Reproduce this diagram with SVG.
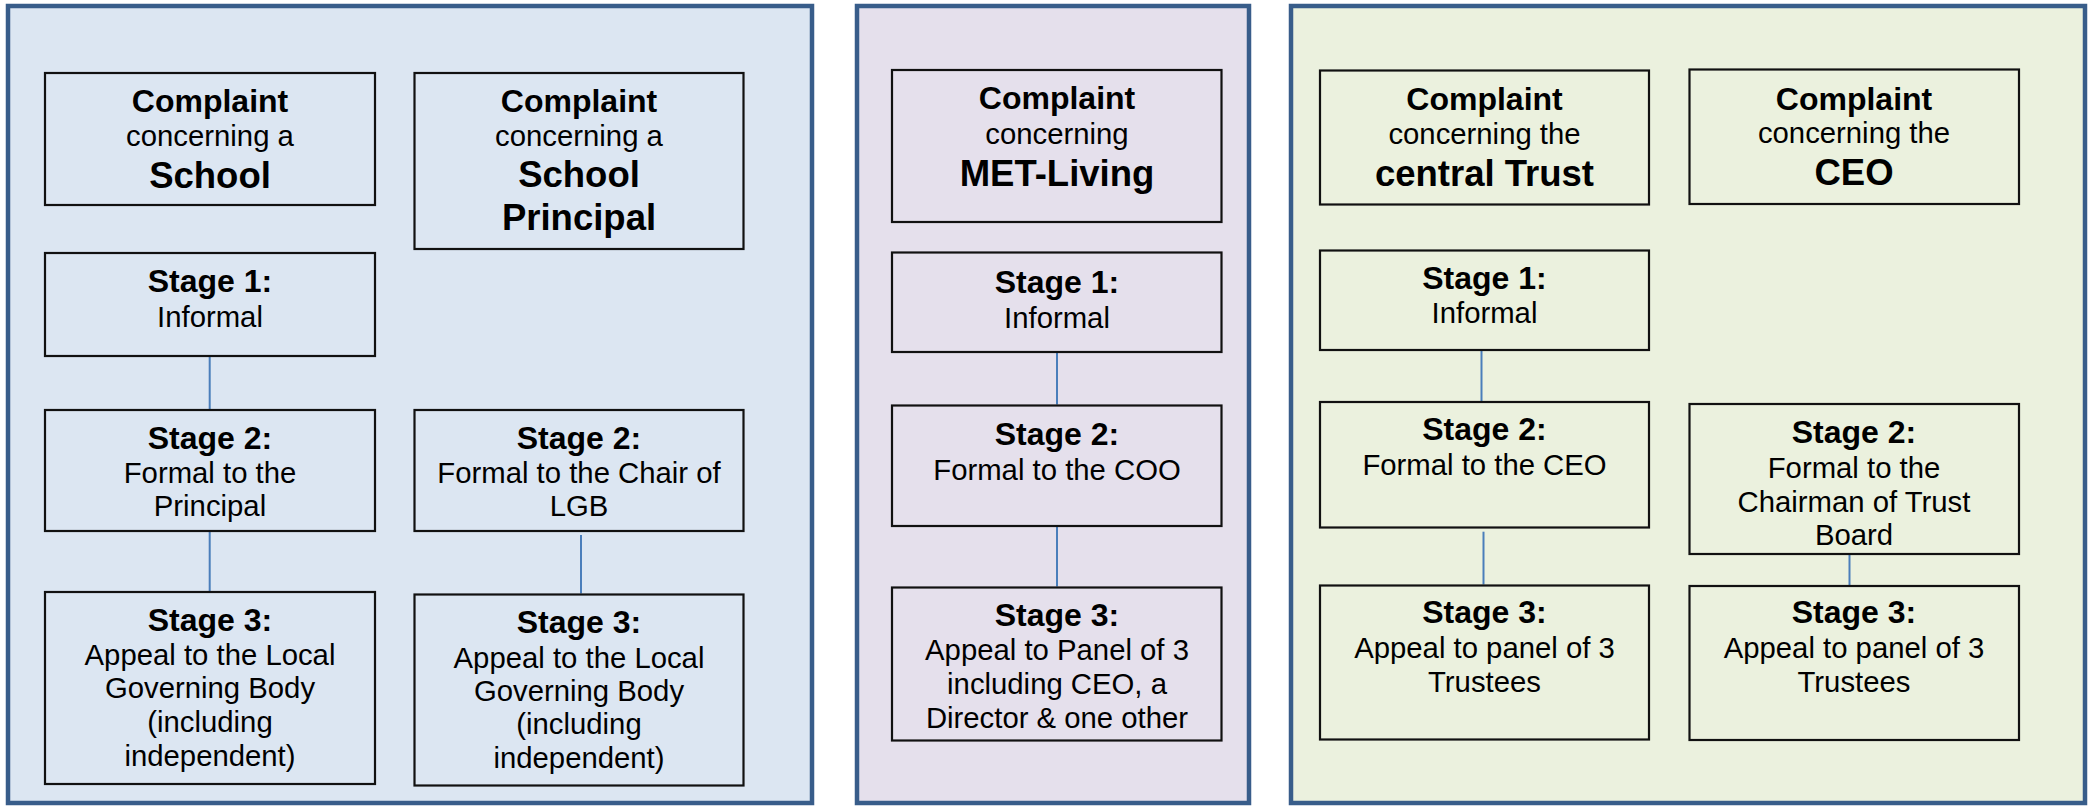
<svg xmlns="http://www.w3.org/2000/svg" width="2088" height="806" viewBox="0 0 2088 806">
<style>
.panel{stroke:#385d8a;stroke-width:4.5}
.p1{fill:#dce6f2}.p2{fill:#e5e0ec}.p3{fill:#ebf1de}
.box{fill:none;stroke:#111;stroke-width:2.2}
.conn{stroke:#4a7ebb;stroke-width:2;fill:none}
text{font-family:"Liberation Sans",Arial,sans-serif;text-anchor:middle;fill:#000}
.b{font-size:32px;font-weight:bold}
.r{font-size:29.3px}
.big{font-size:36.5px;font-weight:bold}
</style>
<g id="panel-school">
<rect class="panel p1" x="8" y="6" width="804" height="797"/>
</g>
<g id="panel-metliving">
<rect class="panel p2" x="857" y="6" width="392" height="797"/>
</g>
<g id="panel-trust">
<rect class="panel p3" x="1291" y="6" width="794" height="797"/>
</g>
<g id="connectors">
<line class="conn" x1="209.7" y1="357" x2="209.7" y2="409"/>
<line class="conn" x1="209.7" y1="532" x2="209.7" y2="591"/>
<line class="conn" x1="581" y1="535" x2="581" y2="593.5"/>
<line class="conn" x1="1057" y1="353" x2="1057" y2="404.5"/>
<line class="conn" x1="1057" y1="527" x2="1057" y2="586.5"/>
<line class="conn" x1="1481.5" y1="351" x2="1481.5" y2="401"/>
<line class="conn" x1="1483.5" y1="531.7" x2="1483.5" y2="584.5"/>
<line class="conn" x1="1849.5" y1="555" x2="1849.5" y2="585"/>
</g>
<g id="complaint-school">
<rect class="box" x="45" y="73" width="330" height="132"/>
<text x="210" y="111.7" class="b">Complaint</text>
<text x="210" y="145.5" class="r">concerning a</text>
<text x="210" y="187.5" class="big">School</text>
</g>
<g id="complaint-principal">
<rect class="box" x="414.5" y="73" width="329" height="176"/>
<text x="579" y="111.7" class="b">Complaint</text>
<text x="579" y="145.7" class="r">concerning a</text>
<text x="579" y="186.7" class="big">School</text>
<text x="579" y="230" class="big">Principal</text>
</g>
<g id="school-stage1">
<rect class="box" x="45" y="253" width="330" height="103"/>
<text x="210" y="291.7" class="b">Stage 1:</text>
<text x="210" y="327.3" class="r">Informal</text>
</g>
<g id="school-stage2">
<rect class="box" x="45" y="410" width="330" height="121"/>
<text x="210" y="449.3" class="b">Stage 2:</text>
<text x="210" y="483.3" class="r">Formal to the</text>
<text x="210" y="516" class="r">Principal</text>
</g>
<g id="principal-stage2">
<rect class="box" x="414.5" y="410" width="329" height="121"/>
<text x="579" y="449.3" class="b">Stage 2:</text>
<text x="579" y="483.3" class="r">Formal to the Chair of</text>
<text x="579" y="516" class="r">LGB</text>
</g>
<g id="school-stage3">
<rect class="box" x="45" y="592" width="330" height="192"/>
<text x="210" y="630.7" class="b">Stage 3:</text>
<text x="210" y="665" class="r">Appeal to the Local</text>
<text x="210" y="698.3" class="r">Governing Body</text>
<text x="210" y="731.7" class="r">(including</text>
<text x="210" y="765.7" class="r">independent)</text>
</g>
<g id="principal-stage3">
<rect class="box" x="414.5" y="594.5" width="329" height="191"/>
<text x="579" y="633.3" class="b">Stage 3:</text>
<text x="579" y="667.6" class="r">Appeal to the Local</text>
<text x="579" y="701" class="r">Governing Body</text>
<text x="579" y="734.3" class="r">(including</text>
<text x="579" y="768.3" class="r">independent)</text>
</g>
<g id="complaint-metliving">
<rect class="box" x="892" y="70" width="329.5" height="152"/>
<text x="1057" y="109.3" class="b">Complaint</text>
<text x="1057" y="143.5" class="r">concerning</text>
<text x="1057" y="186" class="big">MET-Living</text>
</g>
<g id="met-stage1">
<rect class="box" x="892" y="252.5" width="329.5" height="99.5"/>
<text x="1057" y="293" class="b">Stage 1:</text>
<text x="1057" y="327.5" class="r">Informal</text>
</g>
<g id="met-stage2">
<rect class="box" x="892" y="405.5" width="329.5" height="120.5"/>
<text x="1057" y="444.7" class="b">Stage 2:</text>
<text x="1057" y="479.7" class="r">Formal to the COO</text>
</g>
<g id="met-stage3">
<rect class="box" x="892" y="587.5" width="329.5" height="153"/>
<text x="1057" y="625.7" class="b">Stage 3:</text>
<text x="1057" y="660" class="r">Appeal to Panel of 3</text>
<text x="1057" y="694.3" class="r">including CEO, a</text>
<text x="1057" y="727.7" class="r">Director &amp; one other</text>
</g>
<g id="complaint-trust">
<rect class="box" x="1320" y="70.5" width="329" height="134"/>
<text x="1484.5" y="110" class="b">Complaint</text>
<text x="1484.5" y="144" class="r">concerning the</text>
<text x="1484.5" y="186" class="big">central Trust</text>
</g>
<g id="complaint-ceo">
<rect class="box" x="1689.5" y="69.5" width="329.5" height="134.5"/>
<text x="1854" y="110" class="b">Complaint</text>
<text x="1854" y="143.3" class="r">concerning the</text>
<text x="1854" y="185" class="big">CEO</text>
</g>
<g id="trust-stage1">
<rect class="box" x="1320" y="250.5" width="329" height="99.5"/>
<text x="1484.5" y="289.3" class="b">Stage 1:</text>
<text x="1484.5" y="323.3" class="r">Informal</text>
</g>
<g id="trust-stage2">
<rect class="box" x="1320" y="402" width="329" height="125.5"/>
<text x="1484.5" y="440" class="b">Stage 2:</text>
<text x="1484.5" y="475" class="r">Formal to the CEO</text>
</g>
<g id="ceo-stage2">
<rect class="box" x="1689.5" y="404" width="329.5" height="150"/>
<text x="1854" y="442.7" class="b">Stage 2:</text>
<text x="1854" y="477.7" class="r">Formal to the</text>
<text x="1854" y="511.7" class="r">Chairman of Trust</text>
<text x="1854" y="545" class="r">Board</text>
</g>
<g id="trust-stage3">
<rect class="box" x="1320" y="585.5" width="329" height="154"/>
<text x="1484.5" y="623.3" class="b">Stage 3:</text>
<text x="1484.5" y="657.7" class="r">Appeal to panel of 3</text>
<text x="1484.5" y="691.7" class="r">Trustees</text>
</g>
<g id="ceo-stage3">
<rect class="box" x="1689.5" y="586" width="329.5" height="154"/>
<text x="1854" y="623.3" class="b">Stage 3:</text>
<text x="1854" y="657.7" class="r">Appeal to panel of 3</text>
<text x="1854" y="691.7" class="r">Trustees</text>
</g>
</svg>
